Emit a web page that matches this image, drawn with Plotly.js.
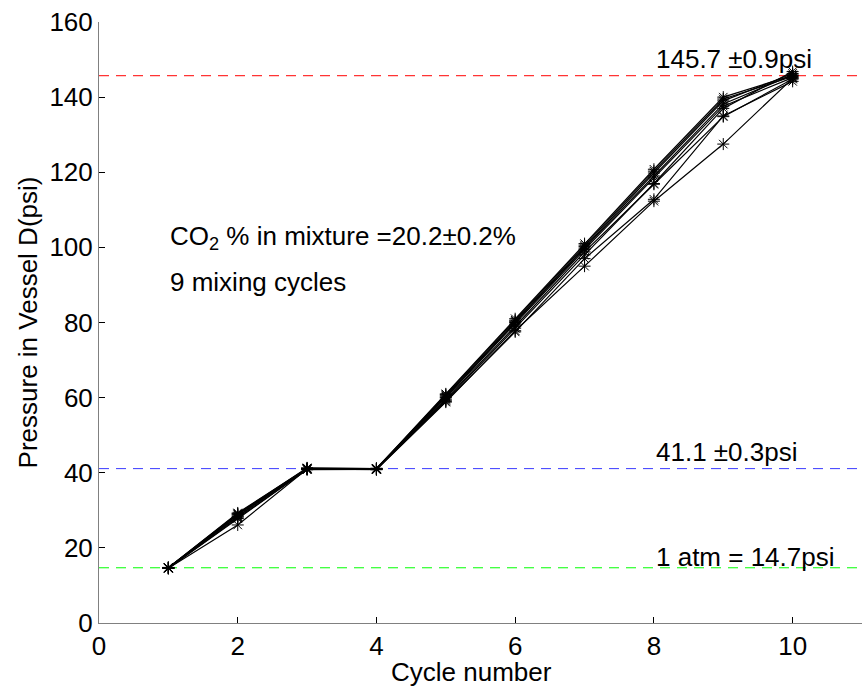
<!DOCTYPE html>
<html>
<head>
<meta charset="utf-8">
<script src="https://cdn.plot.ly/plotly-3.0.1.min.js"></script>
<style>html,body{margin:0;padding:0;background:#fff;}#chart{width:862px;height:691px;}</style>
</head>
<body>
<div id="chart"></div>
<script>
// Cycle numbers
var cycles = [1, 2, 3, 4, 5, 6, 7, 8, 9, 10];
// Pressure in Vessel D (psi) for each mixing run
var run1 = [14.7, 29.3, 41.2, 41.1, 61.0, 81.0, 101.0, 120.8, 140.0, 145.8];
var run2 = [14.7, 29.0, 41.1, 41.0, 60.8, 80.6, 100.6, 120.3, 139.5, 145.5];
var run3 = [14.6, 28.8, 41.0, 41.0, 60.5, 80.3, 100.2, 119.8, 139.0, 146.3];
var run4 = [14.7, 28.5, 41.1, 41.2, 60.2, 80.0, 99.8, 119.0, 138.2, 145.9];
var run5 = [14.8, 28.3, 41.0, 41.0, 60.0, 79.6, 99.4, 118.5, 137.6, 145.2];
var run6 = [14.6, 27.8, 40.9, 40.9, 59.6, 79.0, 98.8, 116.8, 134.8, 144.8];
var run7 = [14.7, 29.1, 41.3, 41.1, 59.3, 78.5, 98.0, 117.0, 137.0, 146.8];
var run8 = [14.5, 28.0, 40.8, 40.9, 59.0, 77.5, 97.0, 112.8, 135.0, 144.2];
var run9 = [14.6, 26.1, 41.0, 40.8, 58.8, 77.8, 95.0, 112.3, 127.5, 145.0];
var runs = [run1, run2, run3, run4, run5, run6, run7, run8, run9];

// Reference levels
var refValues = [145.7, 41.1, 14.7];
var refLabels = ["145.7 \u00b10.9psi", "41.1 \u00b10.3psi", "1 atm = 14.7psi"];
var refColors = ["#ff0000", "#3a3aff", "#00ff00"];

var yTicks = [0, 20, 40, 60, 80, 100, 120, 140, 160];
var xTicks = [0, 2, 4, 6, 8, 10];

var xTitle = "Cycle number";
var yTitle = "Pressure in Vessel D(psi)";

var FONT = "Liberation Sans, Arial, Helvetica, sans-serif";
var FS = 26;

var traces = runs.map(function (r) {
  return {
    x: cycles, y: r, type: "scatter", mode: "lines+markers",
    line: {color: "#000", width: 1.2},
    marker: {symbol: "asterisk-open", size: 10, color: "#000", line: {color: "#000", width: 1}},
    showlegend: false, hoverinfo: "x+y"
  };
});

var shapes = refValues.map(function (v, i) {
  return {type: "line", xref: "paper", x0: 0, x1: 1, yref: "y", y0: v, y1: v,
    line: {color: refColors[i], width: 1, dash: "10px,7px"}, layer: "below"};
});

var annotations = refValues.map(function (v, i) {
  return {x: 8.0, y: v, xref: "x", yref: "y", text: refLabels[i], showarrow: false,
    xanchor: "left", yanchor: "bottom", yshift: i === 2 ? -6 : 0,
    font: {family: FONT, size: FS, color: "#000"}};
});
annotations.push({x: 1.0, y: 102.5, xref: "x", yref: "y", text: "CO<sub>2</sub> % in mixture =20.2\u00b10.2%",
  showarrow: false, xanchor: "left", yanchor: "middle", font: {family: FONT, size: FS, color: "#000"}});
annotations.push({x: 1.0, y: 90.8, xref: "x", yref: "y", text: "9 mixing cycles",
  showarrow: false, xanchor: "left", yanchor: "middle", font: {family: FONT, size: FS, color: "#000"}});
// x-axis title (placed tight under the tick labels as in the reference)
annotations.push({x: 0.4876, y: -0.081, xref: "paper", yref: "paper", text: xTitle,
  showarrow: false, xanchor: "center", yanchor: "middle", font: {family: FONT, size: FS, color: "#000"}});

var layout = {
  width: 862, height: 691,
  margin: {l: 99, r: 0, t: 22, b: 68, pad: 0},
  paper_bgcolor: "#fff", plot_bgcolor: "#fff",
  font: {family: FONT, size: FS, color: "#000"},
  xaxis: {
    range: [0, 11], tickvals: xTicks, ticktext: xTicks.map(String),
    ticks: "inside", ticklen: 6, tickcolor: "#000", tickwidth: 1,
    showline: true, linecolor: "#808080", linewidth: 1, mirror: false,
    showgrid: false, zeroline: false,
    tickfont: {family: FONT, size: FS, color: "#000"}
  },
  yaxis: {
    range: [0, 160], tickvals: yTicks, ticktext: yTicks.map(String),
    ticks: "inside", ticklen: 6, tickcolor: "#000", tickwidth: 1,
    showline: true, linecolor: "#808080", linewidth: 1, mirror: false,
    showgrid: false, zeroline: false,
    tickfont: {family: FONT, size: FS, color: "#000"},
    title: {text: yTitle, font: {family: FONT, size: FS, color: "#000"}, standoff: 4}
  },
  shapes: shapes,
  annotations: annotations
};

Plotly.newPlot("chart", traces, layout, {displayModeBar: false, staticPlot: true});
</script>
</body>
</html>
